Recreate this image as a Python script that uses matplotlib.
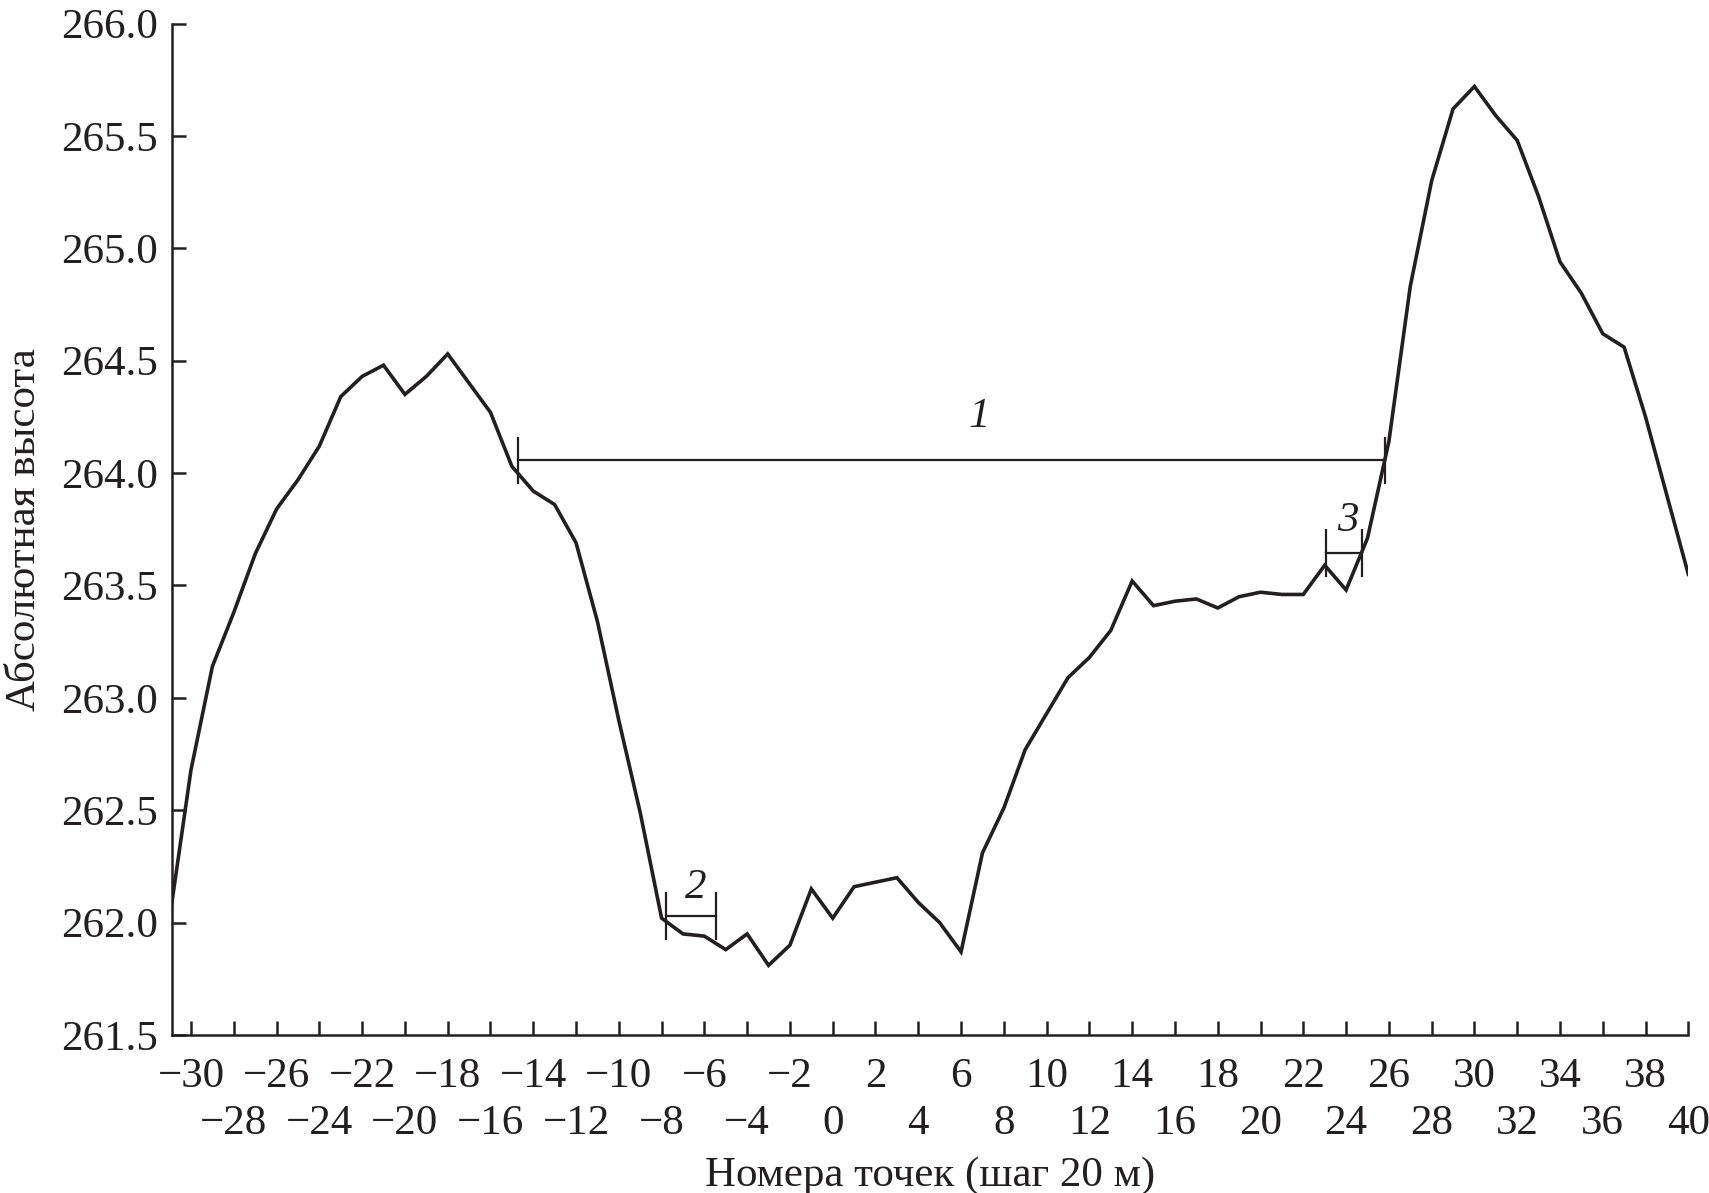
import matplotlib.pyplot as plt

# профиль: номера точек и абсолютные высоты
points = list(range(-31, 41))
heights = [262.02, 262.68, 263.14, 263.38, 263.64, 263.84, 263.97, 264.12,
           264.34, 264.43, 264.48, 264.35, 264.43, 264.53, 264.40, 264.27,
           264.03, 263.92, 263.86, 263.69, 263.34, 262.90, 262.49, 262.02,
           261.95, 261.94, 261.88, 261.95, 261.81, 261.90, 262.15, 262.02,
           262.16, 262.18, 262.20, 262.09, 262.00, 261.87, 262.31, 262.51,
           262.77, 262.93, 263.09, 263.18, 263.30, 263.52, 263.41, 263.43,
           263.44, 263.40, 263.45, 263.47, 263.46, 263.46, 263.59, 263.48,
           263.71, 264.14, 264.83, 265.30, 265.62, 265.72, 265.59, 265.48,
           265.23, 264.94, 264.80, 264.62, 264.56, 264.25, 263.90, 263.55]

# отрезки 1, 2, 3
seg_names = ["1", "2", "3"]
seg_start = [-14.7, -7.8, 23.06]
seg_end = [25.82, -5.45, 24.76]
seg_level = [264.056, 262.03, 263.645]
name_x = [6.83, -6.42, 24.1]
name_y = [264.25, 262.155, 263.79]

# подписи по оси X в два ряда
xticks_top = list(range(-30, 41, 4))
xticks_bottom = list(range(-28, 41, 4))
yticks = [261.5, 262.0, 262.5, 263.0, 263.5, 264.0, 264.5, 265.0, 265.5, 266.0]

plt.rcParams['font.family'] = ['Liberation Serif', 'DejaVu Serif']
ink = '#231f20'
fs = 31

fig = plt.figure(figsize=(17.09, 11.93), dpi=100)
ax = fig.add_axes([0.1005, 0.1324, 0.8874, 0.8479])

ax.plot(points, heights, color=ink, lw=2.6, solid_joinstyle='miter')

half = 0.106
for nm, a, b, lv, tx, ty in zip(seg_names, seg_start, seg_end, seg_level, name_x, name_y):
    ax.plot([a, b], [lv, lv], color=ink, lw=1.6)
    ax.vlines([a, b], lv - half, lv + half, color=ink, lw=1.6)
    ax.text(tx, ty, nm, fontsize=fs, style='italic', ha='center', va='center', color=ink)

ax.set_xlim(-30.9, 40)
ax.set_ylim(261.5, 266.0)


def fmt(v):
    return str(v).replace('-', '\u2212')


ax.set_xticks(xticks_top)
ax.set_xticklabels([fmt(v) for v in xticks_top], fontsize=fs)
ax.set_xticks(xticks_bottom, minor=True)
ax.set_xticklabels([fmt(v) for v in xticks_bottom], minor=True, fontsize=fs)
ax.set_yticks(yticks)
ax.set_yticklabels([f"{v:.1f}" for v in yticks], fontsize=fs)

ax.tick_params(axis='both', which='both', direction='in', length=10, width=1.8, colors=ink)
ax.tick_params(axis='x', which='major', pad=16)
ax.tick_params(axis='x', which='minor', pad=50)
ax.tick_params(axis='y', pad=10)

for s in ['top', 'right']:
    ax.spines[s].set_visible(False)
for s in ['left', 'bottom']:
    ax.spines[s].set_linewidth(1.8)
    ax.spines[s].set_color(ink)

ax.set_xlabel("Номера точек (шаг 20 м)", fontsize=fs, color=ink, labelpad=10)
ax.set_ylabel("Абсолютная высота", fontsize=fs, color=ink, labelpad=12)

fig.savefig("out.png", dpi=100)
